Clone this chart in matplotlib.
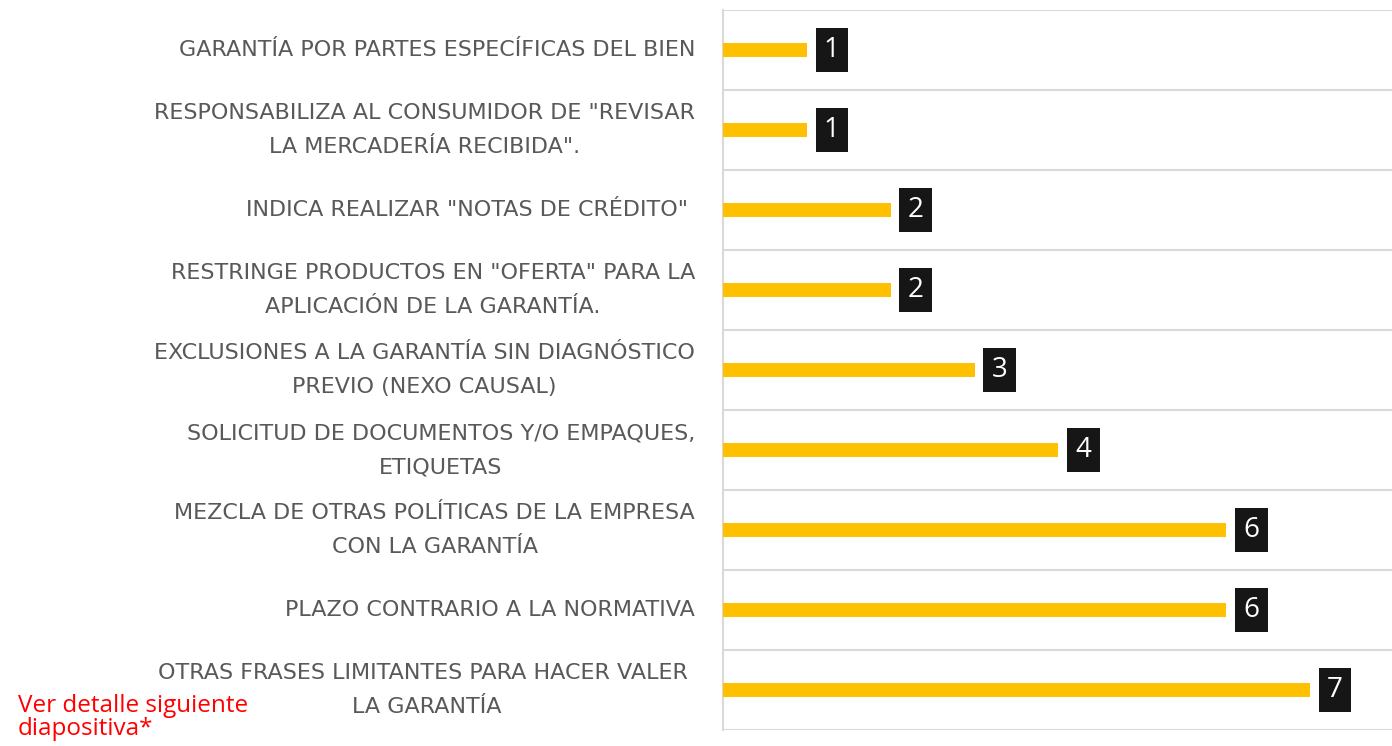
import numpy as np
import matplotlib.pyplot as plt

# datos del gráfico (de arriba hacia abajo)
categorias = [
    'GARANTÍA POR PARTES ESPECÍFICAS DEL BIEN',
    'RESPONSABILIZA AL CONSUMIDOR DE "REVISAR\nLA MERCADERÍA RECIBIDA".',
    'INDICA REALIZAR "NOTAS DE CRÉDITO" ',
    'RESTRINGE PRODUCTOS EN "OFERTA" PARA LA\nAPLICACIÓN DE LA GARANTÍA.',
    'EXCLUSIONES A LA GARANTÍA SIN DIAGNÓSTICO\nPREVIO (NEXO CAUSAL)',
    'SOLICITUD DE DOCUMENTOS Y/O EMPAQUES,\nETIQUETAS',
    'MEZCLA DE OTRAS POLÍTICAS DE LA EMPRESA\nCON LA GARANTÍA',
    'PLAZO CONTRARIO A LA NORMATIVA',
    'OTRAS FRASES LIMITANTES PARA HACER VALER \nLA GARANTÍA',
]
valores = [1, 1, 2, 2, 3, 4, 6, 6, 7]
nota = 'Ver detalle siguiente\ndiapositiva*'

fig = plt.figure(figsize=(13.92, 7.46), dpi=100)
ax = fig.add_axes([0.5194, 0.0214, 0.482, 0.9651])

y = np.arange(len(valores))
ax.barh(y, valores, height=0.18, color='#FFC000', zorder=3)
ax.set_ylim(len(valores) - 0.5, -0.5)
ax.set_xlim(0, 8)

# lineas de separacion
ax.set_yticks(np.arange(len(valores) + 1) - 0.5, minor=True)
ax.grid(which='minor', axis='y', color='#D9D9D9', linewidth=1.5)
ax.set_xticks([])
ax.set_yticks(y)
ax.set_yticklabels([])
ax.tick_params(axis='y', which='both', length=0)
for s in ['top', 'right', 'bottom']:
    ax.spines[s].set_visible(False)
ax.spines['left'].set_color('#D9D9D9')
ax.spines['left'].set_linewidth(1.5)

# etiquetas de categorias, una linea por texto, centradas como en el original
renderer = fig.canvas.get_renderer()
x0_ax = ax.get_window_extent(renderer).x0
for yi, cat in zip(y, categorias):
    lineas = cat.split('\n')
    n = len(lineas)
    offs = [(n - 1) / 2 * 34 - k * 34 for k in range(n)]
    estilo = dict(xy=(0, yi), xycoords=('axes fraction', 'data'),
                  textcoords='offset pixels', va='center', fontsize=16,
                  color='#595959', family='DejaVu Sans')
    t0 = ax.annotate(lineas[0], xytext=(-28, offs[0]), ha='right', **estilo)
    bb = t0.get_window_extent(renderer)
    xc = (bb.x0 + bb.x1) / 2 - x0_ax
    for k in range(1, n):
        ax.annotate(lineas[k], xytext=(xc, offs[k]), ha='center', **estilo)

# etiquetas de valores
for yi, v in zip(y, valores):
    ax.annotate(str(v), xy=(v, yi), xytext=(25, 0), textcoords='offset pixels',
                ha='center', va='center', fontsize=20, color='white',
                family='Open Sans', zorder=4,
                bbox=dict(boxstyle='square,pad=0.3', fc='#161616', ec='none'))

fig.text(18 / 1392, 1 - 694 / 746, nota, ha='left', va='top', color='red',
         fontsize=17.5, family='Open Sans', linespacing=0.92)

fig.savefig('out.png', dpi=100)
